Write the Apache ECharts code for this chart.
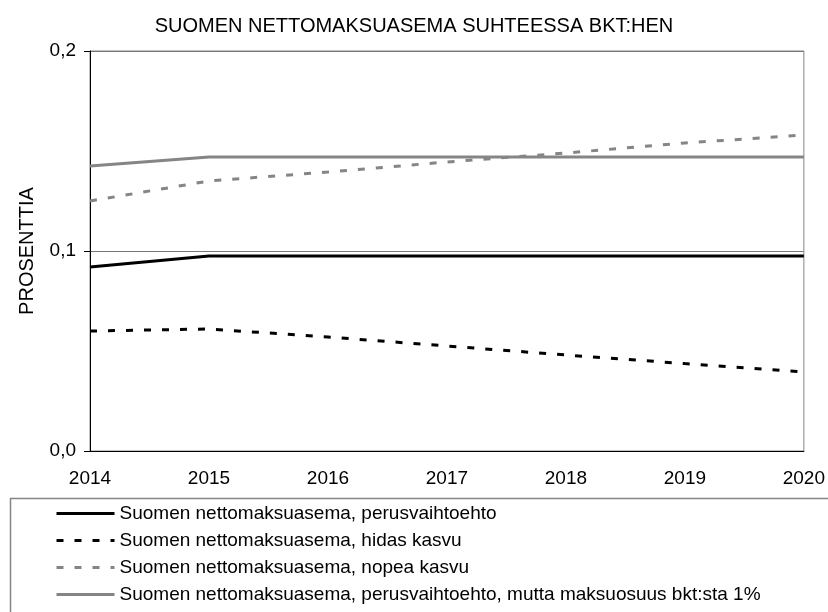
<!DOCTYPE html>
<html>
<head>
<meta charset="utf-8">
<script src="https://cdn.jsdelivr.net/npm/echarts@6/dist/echarts.min.js"></script>
<style>
  html, body { margin: 0; padding: 0; background: #fff; }
  #chart { width: 828px; height: 612px; }
</style>
</head>
<body>
<div id="chart"></div>
<script>
// vuodet ja sarjat luettu kuvasta
const years = ['2014', '2015', '2016', '2017', '2018', '2019', '2020']
const perus = [0.092, 0.0975, 0.0975, 0.0975, 0.0975, 0.0975, 0.0975]
const hidas = [0.060, 0.061, 0.057, 0.0525, 0.048, 0.0437, 0.0395]
const nopea = [0.125, 0.135, 0.1395, 0.1445, 0.149, 0.154, 0.158]
const maksu1 = [0.1425, 0.147, 0.147, 0.147, 0.147, 0.147, 0.147]
const yTicks = ['0,0', '0,1', '0,2']
const names = [
    'Suomen nettomaksuasema, perusvaihtoehto',
    'Suomen nettomaksuasema, hidas kasvu',
    'Suomen nettomaksuasema, nopea kasvu',
    'Suomen nettomaksuasema, perusvaihtoehto, mutta maksuosuus bkt:sta 1%'
]

const font = "'Liberation Sans', Arial, sans-serif"
const gray = '#858585'

const chart = echarts.init(document.getElementById('chart'))

const line = (name, data, color, dashed) => ({
    name: name,
    type: 'line',
    data: data,
    symbol: 'none',
    lineStyle: { color: color, width: 3, type: dashed ? [7, 11] : 'solid' },
    itemStyle: { color: color },
    emphasis: { disabled: true }
})

const option = {
    animation: false,
    title: {
        text: 'SUOMEN NETTOMAKSUASEMA SUHTEESSA BKT:HEN',
        left: 'center',
        top: 11,
        textStyle: { fontFamily: font, fontSize: 20, fontWeight: 'normal', color: '#000' }
    },
    grid: {
        left: 90, right: 20, top: 51, bottom: 161,
        show: true, borderColor: gray, borderWidth: 1
    },
    xAxis: {
        type: 'category',
        data: years,
        boundaryGap: false,
        axisLine: { lineStyle: { color: '#000', width: 1 } },
        axisTick: { show: false },
        axisLabel: { fontFamily: font, fontSize: 19, color: '#000', margin: 18 }
    },
    yAxis: {
        type: 'value',
        min: 0, max: 0.2, interval: 0.1,
        name: 'PROSENTTIA',
        nameLocation: 'middle',
        nameGap: 53,
        nameTextStyle: { fontFamily: font, fontSize: 20, color: '#000' },
        axisLine: { show: true, lineStyle: { color: '#000', width: 1 } },
        axisTick: { show: true, length: 6, lineStyle: { color: '#000' } },
        axisLabel: {
            fontFamily: font, fontSize: 19, color: '#000', margin: 14,
            formatter: v => yTicks[Math.round(v * 10)]
        },
        splitLine: { show: true, lineStyle: { color: '#777', width: 1 } }
    },
    legend: {
        orient: 'vertical',
        left: 50,
        top: 499,
        itemWidth: 58,
        itemHeight: 14,
        itemGap: 8,
        itemStyle: { opacity: 0 },
        lineStyle: { width: 3 },
        textStyle: { fontFamily: font, fontSize: 19, color: '#000' },
        data: names
    },
    graphic: [{
        type: 'rect',
        shape: { x: 10.5, y: 498.5, width: 840, height: 140 },
        style: { fill: 'none', stroke: gray, lineWidth: 1.5 },
        silent: true
    }],
    series: [
        line(names[0], perus, '#000', false),
        line(names[1], hidas, '#000', true),
        line(names[2], nopea, gray, true),
        line(names[3], maksu1, gray, false)
    ]
}

option && chart.setOption(option)
</script>
</body>
</html>
